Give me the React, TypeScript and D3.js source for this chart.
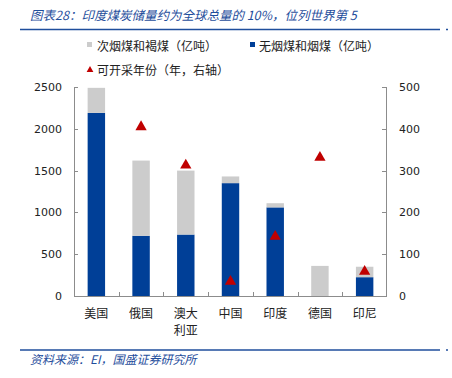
import React from "react";
import * as d3 from "d3";

const categories = ["美国", "俄国", "澳大利亚", "中国", "印度", "德国", "印尼"];
const categoryLines = [["美国"], ["俄国"], ["澳大", "利亚"], ["中国"], ["印度"], ["德国"], ["印尼"]];
const anthracite = [2190, 720, 735, 1350, 1060, 0, 225];
const subbituminous = [300, 900, 765, 80, 50, 360, 125];
const years: (number | null)[] = [null, 407, 315, 37, 145, 334, 61];
const leftTicks = [0, 500, 1000, 1500, 2000, 2500];
const rightTicks = [0, 100, 200, 300, 400, 500];

const W = 452, H = 378;
const plot = { left: 74, right: 387, top: 87, bottom: 296 };
const BLUE = "#003f97";
const GRAY = "#cccccc";
const RED = "#c00000";
const AXIS = "#8c8c8c";
const TITLE_BLUE = "#1f4e9c";
const num = "DejaVu Sans, Verdana, sans-serif";
const cjk = "'Noto Sans CJK SC', sans-serif";

export default function App() {
  const x = d3.scaleBand<string>().domain(categories).range([plot.left, plot.right]).paddingInner(0).paddingOuter(0);
  const yL = d3.scaleLinear().domain([0, 2500]).range([plot.bottom, plot.top]);
  const yR = d3.scaleLinear().domain([0, 500]).range([plot.bottom, plot.top]);
  const bw = x.bandwidth() * 0.39;
  const tri = d3.symbol().type(d3.symbolTriangle).size(55)()!;

  return (
    <svg width={W} height={H} style={{ position: "absolute", left: 0, top: 0 }}>
      <rect width={W} height={H} fill="#fff" />
      <text x={30} y={20} fontFamily={cjk} fontSize={12.5} fontStyle="italic" fill={TITLE_BLUE}>
        图表28：印度煤炭储量约为全球总量的 10%，位列世界第 5
      </text>
      <line x1={20} x2={440} y1={29.5} y2={29.5} stroke={TITLE_BLUE} strokeWidth={1.5} />
      <line x1={446} x2={448} y1={29.5} y2={29.5} stroke={TITLE_BLUE} strokeWidth={1.5} />

      {/* legend */}
      <rect x={87} y={42} width={5} height={5} fill={GRAY} />
      <text x={97} y={51} fontFamily={cjk} fontSize={12} fill="#222">次烟煤和褐煤（亿吨）</text>
      <rect x={250} y={42} width={5} height={5} fill={BLUE} />
      <text x={259} y={51} fontFamily={cjk} fontSize={12} fill="#222">无烟煤和烟煤（亿吨）</text>
      <path d={tri} transform="translate(90,70) scale(0.6)" fill={RED} />
      <text x={97} y={75} fontFamily={cjk} fontSize={12} fill="#222">可开采年份（年，右轴）</text>

      {/* bars */}
      {categories.map((c, i) => {
        const cx = x(c)! + x.bandwidth() / 2;
        const a = anthracite[i];
        const s = subbituminous[i];
        return (
          <g key={c}>
            {a > 0 && (
              <rect x={cx - bw / 2} y={yL(a)} width={bw} height={yL(0) - yL(a)} fill={BLUE} />
            )}
            <rect x={cx - bw / 2} y={yL(a + s)} width={bw} height={yL(a) - yL(a + s)} fill={GRAY} />
          </g>
        );
      })}

      {/* triangles */}
      {categories.map((c, i) => {
        const v = years[i];
        if (v == null) return null;
        const cx = x(c)! + x.bandwidth() / 2;
        return <path key={c} d={tri} transform={`translate(${cx},${yR(v) + 1})`} fill={RED} />;
      })}

      {/* axes */}
      <line x1={plot.left + 0.5} x2={plot.left + 0.5} y1={plot.top} y2={plot.bottom} stroke={AXIS} />
      <line x1={plot.right - 0.5} x2={plot.right - 0.5} y1={plot.top} y2={plot.bottom} stroke={AXIS} />
      <line x1={plot.left} x2={plot.right} y1={plot.bottom + 0.5} y2={plot.bottom + 0.5} stroke={AXIS} />
      {leftTicks.map((t) => (
        <g key={"l" + t}>
          <line x1={plot.left} x2={plot.left + 4} y1={Math.round(yL(t)) + 0.5} y2={Math.round(yL(t)) + 0.5} stroke={AXIS} />
          <text x={62} y={yL(t) + 4} textAnchor="end" fontFamily={num} fontSize={11} fill="#222">{t}</text>
        </g>
      ))}
      {rightTicks.map((t) => (
        <g key={"r" + t}>
          <line x1={plot.right - 5} x2={plot.right} y1={Math.round(yR(t)) + 0.5} y2={Math.round(yR(t)) + 0.5} stroke={AXIS} />
          <text x={399} y={yR(t) + 4} textAnchor="start" fontFamily={num} fontSize={11} fill="#222">{t}</text>
        </g>
      ))}
      {categories.map((c) => (
        <line key={"t" + c} x1={Math.round(x(c)!) + 0.5} x2={Math.round(x(c)!) + 0.5} y1={plot.bottom - 4} y2={plot.bottom} stroke={AXIS} />
      ))}
      {categories.map((c, i) => {
        const cx = x(c)! + x.bandwidth() / 2;
        return categoryLines[i].map((ln, j) => (
          <text key={c + j} x={cx} y={318 + j * 17} textAnchor="middle" fontFamily={cjk} fontSize={12} fill="#222">{ln}</text>
        ));
      })}

      <line x1={20} x2={440} y1={350} y2={350} stroke={TITLE_BLUE} strokeWidth={1.5} />
      <line x1={446} x2={448} y1={350} y2={350} stroke={TITLE_BLUE} strokeWidth={1.5} />
      <text x={30} y={364} fontFamily={cjk} fontSize={12} fontStyle="italic" fill={TITLE_BLUE}>
        资料来源：EI，国盛证券研究所
      </text>
    </svg>
  );
}
